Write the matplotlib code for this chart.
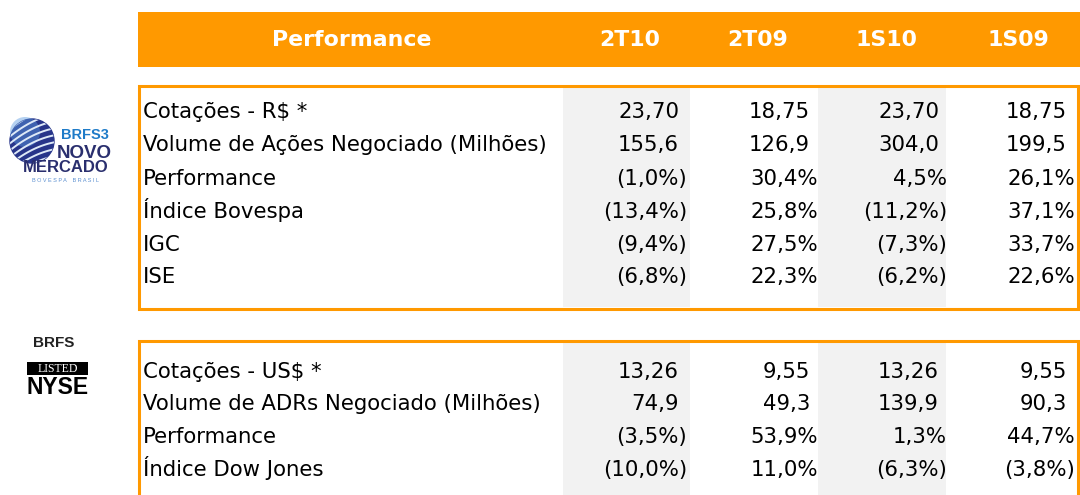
import matplotlib.pyplot as plt
from matplotlib.patches import Rectangle, Circle
import numpy as np

# table content
columns = ['2T10', '2T09', '1S10', '1S09']
header_title = 'Performance'

labels_brl = ['Cotações - R$ *', 'Volume de Ações Negociado (Milhões)', 'Performance',
              'Índice Bovespa', 'IGC', 'ISE']
values_brl = [
    ['23,70', '18,75', '23,70', '18,75'],
    ['155,6', '126,9', '304,0', '199,5'],
    ['(1,0%)', '30,4%', '4,5%', '26,1%'],
    ['(13,4%)', '25,8%', '(11,2%)', '37,1%'],
    ['(9,4%)', '27,5%', '(7,3%)', '33,7%'],
    ['(6,8%)', '22,3%', '(6,2%)', '22,6%'],
]

labels_usd = ['Cotações - US$ *', 'Volume de ADRs Negociado (Milhões)', 'Performance',
              'Índice Dow Jones']
values_usd = [
    ['13,26', '9,55', '13,26', '9,55'],
    ['74,9', '49,3', '139,9', '90,3'],
    ['(3,5%)', '53,9%', '1,3%', '44,7%'],
    ['(10,0%)', '11,0%', '(6,3%)', '(3,8%)'],
]

ORANGE = '#FF9900'
GREY = '#F2F2F2'
FONT = 'DejaVu Sans'

fig = plt.figure(figsize=(10.8, 4.95), dpi=100)
ax = fig.add_axes([0, 0, 1, 1])
ax.set_xlim(0, 1080)
ax.set_ylim(495, 0)
ax.axis('off')

# header bar
ax.add_patch(Rectangle((138, 12), 942, 55, color=ORANGE, lw=0))
ax.text(352, 46, header_title, color='white', fontsize=15.8, fontweight='bold',
        ha='center', va='baseline', family=FONT)
head_x = [630, 758, 886, 1018]
for x, c in zip(head_x, columns):
    ax.text(x, 46, c, color='white', fontsize=15.8, fontweight='bold',
            ha='center', va='baseline', family=FONT)

# shaded columns
shade = [(563, 690), (818, 946)]
for x0, x1 in shade:
    ax.add_patch(Rectangle((x0, 88), x1 - x0, 219, color=GREY, lw=0))
    ax.add_patch(Rectangle((x0, 343), x1 - x0, 160, color=GREY, lw=0))

# boxes
ax.add_patch(Rectangle((139, 86), 939, 223, fill=False, ec=ORANGE, lw=2.2))
ax.plot([139, 139, 1078, 1078], [500, 341, 341, 500], color=ORANGE, lw=2.2,
        solid_joinstyle='miter')

right_x = [687, 818, 947, 1075]


def block(labels, values, ys):
    for lab, row, y in zip(labels, values, ys):
        ax.text(143, y, lab, fontsize=15.3, ha='left', va='baseline', family=FONT)
        for x, v in zip(right_x, row):
            # accounting style: plain numbers sit left of the % / paren edge
            off = 0 if v.endswith(')') or v.endswith('%') else -8
            ax.text(x + off, y, v, fontsize=15.3, ha='right', va='baseline',
                    family=FONT)


block(labels_brl, values_brl, [118, 151, 185, 218, 251, 283])
block(labels_usd, values_usd, [378, 410, 443, 476])

# BM&FBovespa Novo Mercado logo
globe = Circle((32, 141), 22, color='#27358a', zorder=3)
ax.add_patch(globe)
hl = Circle((25, 132), 15, color='#5b9be0', alpha=0.45, zorder=3, lw=0)
ax.add_patch(hl)
for k in range(8):
    t = np.linspace(-1, 1, 50)
    yy = 141 - 26 + k * 7 - t * 12 + 4 * t ** 2
    xx = 32 + t * 24
    ln, = ax.plot(xx, yy, color='#dde9f7', lw=1.4, zorder=4)
    ln.set_clip_path(globe)
ax.text(85, 135, 'BRFS3', color='#1e7bc8', fontsize=10.5, fontweight='bold',
        ha='center', va='center', family='Liberation Sans', zorder=5)
ax.text(84, 153, 'NOVO', color='#2a2f6e', fontsize=13.5, fontweight='bold',
        ha='center', va='center', family='Liberation Sans', zorder=5)
ax.text(66, 168, 'MERCADO', color='#2a2f6e', fontsize=12, fontweight='bold',
        ha='center', va='center', family='Liberation Sans', zorder=5)
ax.text(66, 180, 'B O V E S P A    B R A S I L', color='#5b8fd0', fontsize=4,
        ha='center', va='center', family='Liberation Sans', zorder=5)

# NYSE logo
ax.text(54, 343, 'BRFS', color='#222222', fontsize=11, fontweight='bold',
        ha='center', va='center', family='Liberation Sans')
ax.add_patch(Rectangle((27, 362), 61, 13, color='black', lw=0))
ax.text(57.5, 369, 'LISTED', color='white', fontsize=8.5, ha='center', va='center',
        family='Liberation Serif')
ax.text(58, 388, 'NYSE', color='black', fontsize=16.5, fontweight='bold',
        ha='center', va='center', family='Liberation Sans')

fig.savefig('out.png', dpi=100)
